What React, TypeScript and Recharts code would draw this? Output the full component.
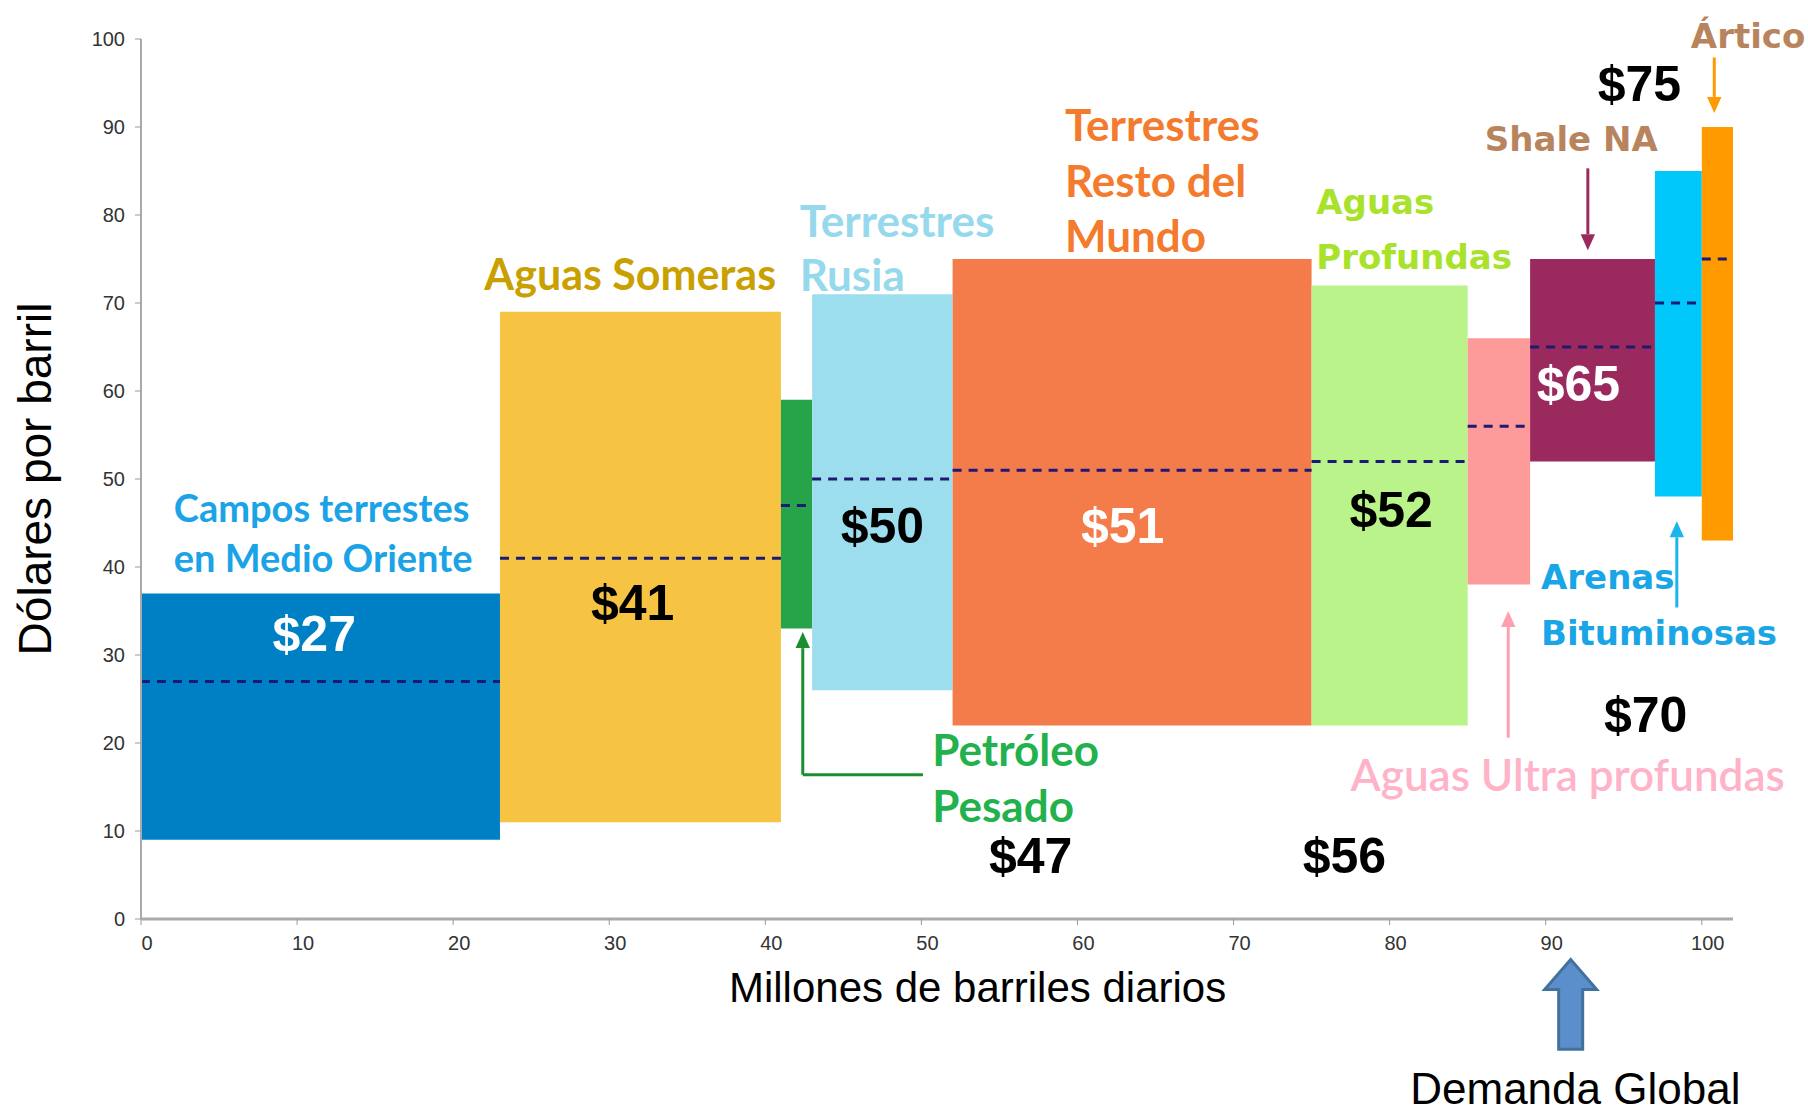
import React from "react";
import {
  ComposedChart,
  ReferenceArea,
  ReferenceDot,
  ReferenceLine,
  Scatter,
  XAxis,
  YAxis,
} from "recharts";

// supply cost curve: production volume (Mb/d) vs breakeven cost ($/bbl)
const sources = [
  "Campos terrestes en Medio Oriente",
  "Aguas Someras",
  "Petróleo Pesado",
  "Terrestres Rusia",
  "Terrestres Resto del Mundo",
  "Aguas Profundas",
  "Aguas Ultra profundas",
  "Shale NA",
  "Arenas Bituminosas",
  "Ártico",
];
const volStart = [0, 23, 41, 43, 52, 75, 85, 89, 97, 100];
const volEnd = [23, 41, 43, 52, 75, 85, 89, 97, 100, 102];
const costLow = [9, 11, 33, 26, 22, 22, 38, 52, 48, 43];
const costHigh = [37, 69, 59, 71, 75, 72, 66, 75, 85, 90];
const costAvg = [27, 41, 47, 50, 51, 52, 56, 65, 70, 75];
const blockColors = [
  "#0080c4",
  "#f6c342",
  "#27a34a",
  "#9ddeee",
  "#f47c4b",
  "#b9f38a",
  "#fd9a9a",
  "#9a2a5e",
  "#00c8fa",
  "#ff9a00",
];

const xTicks = [0, 10, 20, 30, 40, 50, 60, 70, 80, 90, 100];
const yTicks = [0, 10, 20, 30, 40, 50, 60, 70, 80, 90, 100];

// price callouts, placed in data units
const priceText = ["$27", "$41", "$47", "$50", "$51", "$52", "$56", "$65", "$70", "$75"];
const priceX = [11.1, 31.5, 57, 47.5, 62.9, 80.1, 77.1, 92.1, 96.4, 96.0];
const priceY = [32.4, 35.9, 7.2, 44.7, 44.7, 46.5, 7.2, 60.8, 23.2, 94.9];
const priceColor = ["#fff", "#000", "#000", "#000", "#fff", "#000", "#000", "#fff", "#000", "#000"];

const calibri = "Lato, 'Open Sans', sans-serif";
const verdana = "'DejaVu Sans', Verdana, sans-serif";
const arial = "'Liberation Sans', Arial, sans-serif";

type Note = { text: string; x: number; y: number; color: string; font: string; size: number; weight: number; anchor?: string };

const notes: Note[] = [
  { text: "Campos terrestes", x: 2.1, y: 46.8, color: "#1aa3e6", font: calibri, size: 38, weight: 700 },
  { text: "en Medio Oriente", x: 2.1, y: 41.1, color: "#1aa3e6", font: calibri, size: 38, weight: 700 },
  { text: "Aguas Someras", x: 22.0, y: 73.4, color: "#c9a000", font: calibri, size: 43, weight: 700 },
  { text: "Terrestres", x: 42.2, y: 79.4, color: "#96d9ec", font: calibri, size: 44, weight: 700 },
  { text: "Rusia", x: 42.2, y: 73.3, color: "#96d9ec", font: calibri, size: 44, weight: 700 },
  { text: "Terrestres", x: 59.2, y: 90.3, color: "#f47b2e", font: calibri, size: 44, weight: 700 },
  { text: "Resto del", x: 59.2, y: 84.0, color: "#f47b2e", font: calibri, size: 44, weight: 700 },
  { text: "Mundo", x: 59.2, y: 77.7, color: "#f47b2e", font: calibri, size: 44, weight: 700 },
  { text: "Aguas", x: 75.3, y: 81.5, color: "#a8e22a", font: verdana, size: 34, weight: 700 },
  { text: "Profundas", x: 75.3, y: 75.2, color: "#a8e22a", font: verdana, size: 34, weight: 700 },
  { text: "Shale NA", x: 86.1, y: 88.6, color: "#b8845e", font: verdana, size: 34, weight: 700 },
  { text: "Ártico", x: 99.3, y: 100.3, color: "#b8845e", font: verdana, size: 34, weight: 700 },
  { text: "Arenas", x: 89.7, y: 38.9, color: "#19a5e6", font: verdana, size: 34, weight: 700 },
  { text: "Bituminosas", x: 89.7, y: 32.5, color: "#19a5e6", font: verdana, size: 34, weight: 700 },
  { text: "Aguas Ultra profundas", x: 77.5, y: 16.5, color: "#ffb3c8", font: calibri, size: 44, weight: 600 },
  { text: "Petróleo", x: 50.7, y: 19.3, color: "#22b14c", font: calibri, size: 44, weight: 700 },
  { text: "Pesado", x: 50.7, y: 13.0, color: "#22b14c", font: calibri, size: 44, weight: 700 },
  { text: "Millones de barriles diarios", x: 53.6, y: -7.8, color: "#000", font: arial, size: 42, weight: 400, anchor: "middle" },
  { text: "Demanda Global", x: 91.9, y: -19.3, color: "#000", font: arial, size: 44, weight: 400, anchor: "middle" },
];

type Pointer = { from: [number, number]; to: [number, number]; color: string; head: boolean };

const pointers: Pointer[] = [
  { from: [50.1, 16.4], to: [42.4, 16.4], color: "#1b8f2e", head: false },
  { from: [42.4, 16.4], to: [42.4, 32.6], color: "#1b8f2e", head: true },
  { from: [87.6, 20.6], to: [87.6, 35.0], color: "#ffa0b0", head: true },
  { from: [98.4, 35.4], to: [98.4, 45.2], color: "#1bb5ee", head: true },
  { from: [92.7, 85.3], to: [92.7, 76.0], color: "#9a2a5e", head: true },
  { from: [100.8, 97.9], to: [100.8, 91.6], color: "#ff9a00", head: true },
];

const demandFrom: [number, number] = [91.6, -14.8];
const demandTo: [number, number] = [91.6, -4.6];

const priceData = priceText.map((text, i) => ({ x: priceX[i], y: priceY[i], text, color: priceColor[i] }));

function arrowShape(color: string, head: boolean) {
  return (props: any) => {
    const { x1, y1, x2, y2 } = props;
    const len = Math.hypot(x2 - x1, y2 - y1) || 1;
    const ux = (x2 - x1) / len;
    const uy = (y2 - y1) / len;
    const size = 16;
    const bx = x2 - ux * size;
    const by = y2 - uy * size;
    const px = -uy * size * 0.45;
    const py = ux * size * 0.45;
    return (
      <g>
        <line x1={x1} y1={y1} x2={head ? bx : x2} y2={head ? by : y2} stroke={color} strokeWidth={3} />
        {head ? <polygon points={`${x2},${y2} ${bx + px},${by + py} ${bx - px},${by - py}`} fill={color} /> : null}
      </g>
    );
  };
}

function blockArrow(props: any) {
  const { x1, y1, y2 } = props;
  const shaft = 12;
  const half = 26;
  const headLen = 30;
  const neck = y2 + headLen;
  const pts = [
    [x1 - shaft, y1],
    [x1 - shaft, neck],
    [x1 - half, neck],
    [x1, y2],
    [x1 + half, neck],
    [x1 + shaft, neck],
    [x1 + shaft, y1],
  ]
    .map((p) => p.join(","))
    .join(" ");
  return <polygon points={pts} fill="#5b8fcb" stroke="#41719c" strokeWidth={3} />;
}

function noteShape(note: Note) {
  return (props: any) => (
    <text
      x={props.cx}
      y={props.cy}
      fill={note.color}
      fontFamily={note.font}
      fontSize={note.size}
      fontWeight={note.weight}
      textAnchor={note.anchor ?? "start"}
      dominantBaseline="central"
    >
      {note.text}
    </text>
  );
}

function PriceLabel(props: any) {
  const { cx, cy, payload } = props;
  return (
    <text
      x={cx}
      y={cy}
      fill={payload.color}
      fontFamily={arial}
      fontSize={50}
      fontWeight={700}
      textAnchor="middle"
      dominantBaseline="central"
    >
      {payload.text}
    </text>
  );
}

const tickStyle = { fontSize: 20, fill: "#333", fontFamily: "'Liberation Sans Narrow', 'Liberation Sans', sans-serif" };

export default function App() {
  return (
    <div style={{ position: "absolute", left: 0, top: 0, background: "#fff" }}>
      <ComposedChart width={1808} height={1116} margin={{ top: 39, right: 75, bottom: 157, left: 0 }}>
        <XAxis
          type="number"
          dataKey="x"
          domain={[0, 102]}
          ticks={xTicks}
          tick={{ ...tickStyle, dx: 6 }}
          tickMargin={11}
          height={40}
          axisLine={{ stroke: "#aaa", strokeWidth: 3 }}
          tickLine={{ stroke: "#999" }}
        />
        <YAxis
          type="number"
          dataKey="y"
          domain={[0, 100]}
          ticks={yTicks}
          tick={tickStyle}
          tickMargin={10}
          width={141}
          axisLine={{ stroke: "#aaa", strokeWidth: 2 }}
          tickLine={{ stroke: "#999" }}
          label={{
            value: "Dólares por barril",
            angle: -90,
            position: "insideLeft",
            offset: 35,
            style: { textAnchor: "middle", fontSize: 46, fill: "#000", fontFamily: arial },
          }}
        />
        {sources.map((name, i) => (
          <ReferenceArea
            key={name}
            x1={volStart[i]}
            x2={volEnd[i]}
            y1={costLow[i]}
            y2={costHigh[i]}
            fill={blockColors[i]}
            fillOpacity={1}
            strokeOpacity={0}
            ifOverflow="visible"
          />
        ))}
        {sources.map((name, i) => (
          <ReferenceLine
            key={`avg-${name}`}
            segment={[
              { x: volStart[i], y: costAvg[i] },
              { x: volEnd[i], y: costAvg[i] },
            ]}
            stroke="#1c1a73"
            strokeWidth={3}
            strokeDasharray="9 7"
            ifOverflow="visible"
          />
        ))}
        {pointers.map((p, i) => (
          <ReferenceLine
            key={`ptr-${i}`}
            segment={[
              { x: p.from[0], y: p.from[1] },
              { x: p.to[0], y: p.to[1] },
            ]}
            ifOverflow="visible"
            shape={arrowShape(p.color, p.head)}
          />
        ))}
        <ReferenceLine
          segment={[
            { x: demandFrom[0], y: demandFrom[1] },
            { x: demandTo[0], y: demandTo[1] },
          ]}
          ifOverflow="visible"
          shape={blockArrow}
        />
        {notes.map((n, i) => (
          <ReferenceDot key={`note-${i}`} x={n.x} y={n.y} r={0} ifOverflow="visible" shape={noteShape(n)} />
        ))}
        <Scatter data={priceData} shape={<PriceLabel />} isAnimationActive={false} />
      </ComposedChart>
    </div>
  );
}
